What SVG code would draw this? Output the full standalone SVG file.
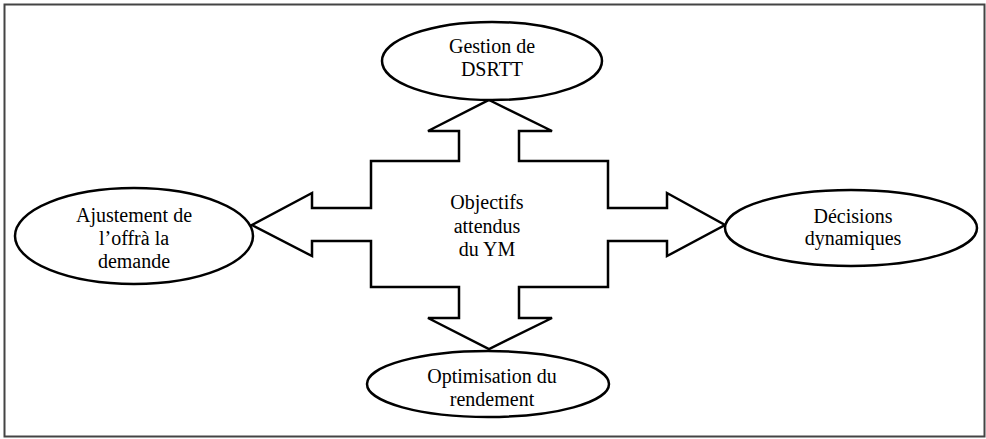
<svg xmlns="http://www.w3.org/2000/svg" width="986" height="439" viewBox="0 0 986 439">
<style>
.ell{fill:#fff;stroke:#000;stroke-width:2.5}
.lbl{font-family:"Liberation Serif","Times New Roman",serif;font-size:20px;fill:#000;text-anchor:middle}
.cross{fill:#fff;stroke:#000;stroke-width:2.5;stroke-linejoin:miter}
</style>
<rect x="0" y="0" width="986" height="439" fill="#fff"/>
<rect x="4.5" y="4.5" width="980" height="432" fill="none" stroke="#444" stroke-width="2"/>
<g id="connectors">
<path class="cross" d="M489,100 L552,131 L519,131 L519,161 L608,161 L608,208 L667,208 L667,193 L725,225 L667,256 L667,241 L608,241 L608,287 L519,287 L519,318 L552,318 L489,349 L428,318 L459,318 L459,287 L371,287 L371,241 L312,241 L312,256 L252,225 L312,193 L312,208 L371,208 L371,161 L459,161 L459,131 L428,131 Z"/>
</g>
<g id="center">
<text class="lbl" x="487" y="209">Objectifs</text>
<text class="lbl" x="487" y="233">attendus</text>
<text class="lbl" x="487" y="256">du YM</text>
</g>
<g id="top">
<ellipse class="ell" cx="492" cy="61" rx="110" ry="39"/>
<text class="lbl" x="492" y="53">Gestion de</text>
<text class="lbl" x="492" y="76">DSRTT</text>
</g>
<g id="left">
<ellipse class="ell" cx="134" cy="236" rx="119" ry="48"/>
<text class="lbl" x="134" y="222">Ajustement de</text>
<text class="lbl" x="134" y="245">l’offrà la</text>
<text class="lbl" x="134" y="268">demande</text>
</g>
<g id="right">
<ellipse class="ell" cx="851" cy="228" rx="126" ry="38"/>
<text class="lbl" x="853" y="223">Décisions</text>
<text class="lbl" x="853" y="245">dynamiques</text>
</g>
<g id="bottom">
<ellipse class="ell" cx="488" cy="384" rx="121" ry="33"/>
<text class="lbl" x="492" y="383">Optimisation du</text>
<text class="lbl" x="492" y="406">rendement</text>
</g>
</svg>
